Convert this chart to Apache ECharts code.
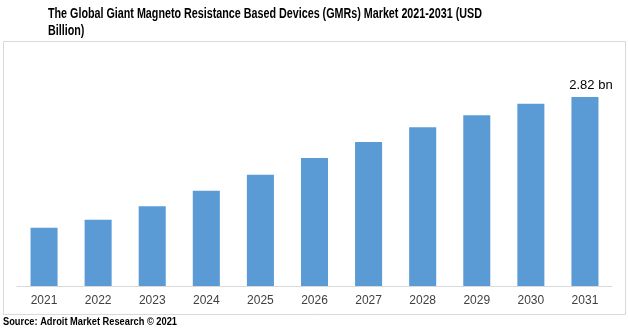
<!DOCTYPE html>
<html>
<head>
<meta charset="utf-8">
<script src="https://cdn.jsdelivr.net/npm/echarts@6/dist/echarts.min.js"></script>
<style>
  html, body { margin: 0; padding: 0; background: #fff; }
  #chart { width: 628px; height: 329px; }
</style>
</head>
<body>
<div id="chart"></div>
<script>
// Market size by year, USD billion
const years = ['2021', '2022', '2023', '2024', '2025', '2026', '2027', '2028', '2029', '2030', '2031'];
const marketValues = [0.87, 0.99, 1.19, 1.42, 1.66, 1.91, 2.15, 2.37, 2.55, 2.72, 2.82];
const titleLines = ['The Global Giant Magneto Resistance Based Devices (GMRs) Market 2021-2031 (USD', 'Billion)'];
const sourceText = 'Source: Adroit Market Research \u00a9 2021';

const titleFont = 'bold 14px "Liberation Sans", Arial, sans-serif';
const sourceFont = 'bold 11px "Liberation Sans", Arial, sans-serif';

// Condensed look: squeeze the bold sans text horizontally to a fixed run width
const measureCtx = document.createElement('canvas').getContext('2d');
function widthOf(text, font) {
  measureCtx.font = font;
  return measureCtx.measureText(text).width;
}
const titleScale = 434 / widthOf(titleLines[0], titleFont);
const sourceScale = 174 / widthOf(sourceText, sourceFont);

const chart = echarts.init(document.getElementById('chart'), null, { renderer: 'canvas' });

chart.setOption({
  animation: false,
  backgroundColor: '#ffffff',
  graphic: [
    {
      type: 'rect',
      shape: { x: 3.5, y: 41.5, width: 622, height: 273 },
      style: { fill: 'none', stroke: '#d9d9d9', lineWidth: 1 },
      z: 0
    },
    {
      type: 'text',
      x: 48,
      y: 6,
      scaleX: titleScale,
      style: {
        text: titleLines.join('\n'),
        font: titleFont,
        fill: '#000000',
        lineHeight: 17
      }
    },
    {
      type: 'text',
      x: 3,
      y: 316,
      scaleX: sourceScale,
      style: {
        text: sourceText,
        font: sourceFont,
        fill: '#000000'
      }
    }
  ],
  grid: { left: 17, right: 16, top: 85, bottom: 43 },
  xAxis: {
    type: 'category',
    data: years,
    axisLine: { lineStyle: { color: '#d9d9d9', width: 1 } },
    axisTick: { show: false },
    axisLabel: {
      color: '#404040',
      fontSize: 12,
      fontFamily: 'Liberation Sans, Arial, sans-serif',
      margin: 9
    }
  },
  yAxis: {
    type: 'value',
    min: 0,
    max: 3,
    show: false,
    splitLine: { show: false }
  },
  series: [{
    type: 'bar',
    data: marketValues.map((v, i) => ({
      value: v,
      label: i === marketValues.length - 1 ? {
        show: true,
        position: 'top',
        distance: 5,
        offset: [6, 0],
        formatter: '{c} bn',
        color: '#000000',
        fontSize: 13,
        fontFamily: 'Liberation Sans, Arial, sans-serif'
      } : { show: false }
    })),
    barWidth: '50%',
    itemStyle: { color: '#5b9bd5' }
  }]
});
</script>
</body>
</html>
